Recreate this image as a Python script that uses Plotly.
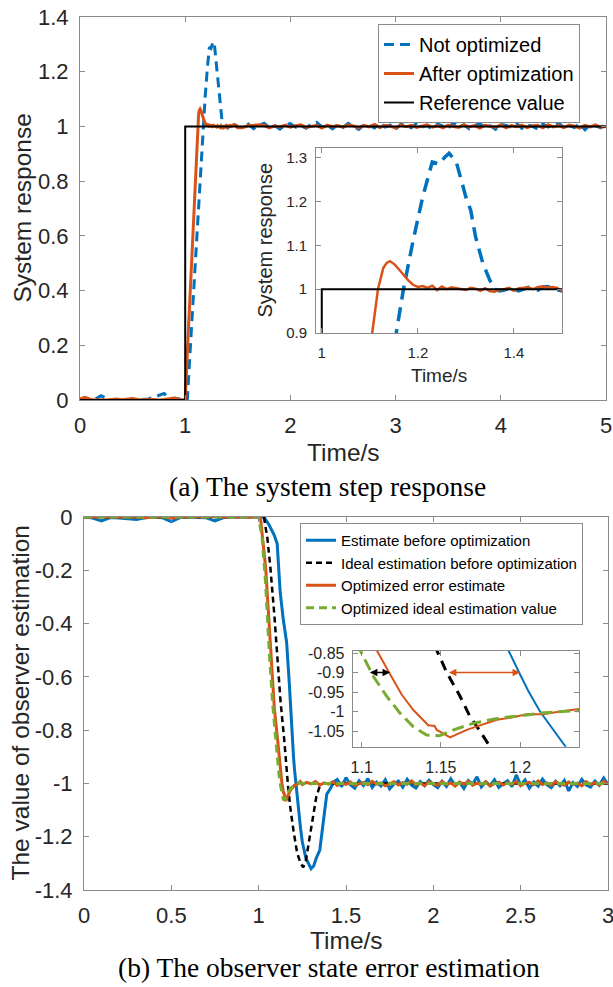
import plotly.graph_objects as go

# ================= (a) system step response =================
a_pre_t = [0.00, 0.05, 0.10, 0.15, 0.20, 0.25, 0.30, 0.35, 0.40, 0.45, 0.50,
           0.55, 0.60, 0.65, 0.70, 0.75, 0.80, 0.85, 0.90, 0.95, 1.00]
a_blue_pre = [0.000, 0.002, 0.000, 0.004, 0.016, 0.006, 0.000, -0.002, 0.002, 0.000, 0.003,
              0.001, 0.002, 0.004, 0.010, 0.018, 0.024, 0.004, 0.006, 0.004, 0.002]
a_orange_pre = [0.004, 0.010, 0.002, 0.000, 0.001, 0.000, 0.002, 0.004, 0.001, 0.003, 0.005,
                0.002, 0.000, 0.003, 0.001, 0.000, 0.002, 0.004, 0.007, 0.002, 0.000]

a_blue_tr_t = [1.02, 1.05, 1.08, 1.11, 1.13, 1.154, 1.17, 1.19, 1.21, 1.23,
               1.245, 1.255, 1.265, 1.28, 1.30, 1.31, 1.32, 1.335, 1.35, 1.36,
               1.37, 1.38, 1.39, 1.40, 1.41, 1.42, 1.43, 1.44, 1.45, 1.46,
               1.47, 1.48, 1.49, 1.50]
a_blue_tr_y = [0.00, 0.20, 0.40, 0.60, 0.73, 0.90, 1.00, 1.11, 1.21, 1.29,
               1.285, 1.30, 1.31, 1.29, 1.21, 1.18, 1.12, 1.06, 1.02, 1.00,
               0.996, 0.998, 1.002, 0.999, 0.996, 1.000, 1.004, 1.001, 0.998, 1.005,
               1.006, 1.002, 0.999, 0.996]
a_orange_tr_t = [1.02, 1.05, 1.08, 1.105, 1.117, 1.128, 1.135, 1.142, 1.148, 1.152,
                 1.16, 1.17, 1.18, 1.19, 1.20, 1.21, 1.22, 1.23, 1.24, 1.25,
                 1.26, 1.27, 1.28, 1.29, 1.30, 1.31, 1.32, 1.33, 1.34, 1.35,
                 1.36, 1.37, 1.38, 1.39, 1.40, 1.41, 1.42, 1.43, 1.44, 1.45,
                 1.46, 1.47, 1.48, 1.49, 1.50]
a_orange_tr_y = [0.17, 0.42, 0.67, 0.90, 1.00, 1.048, 1.06, 1.064, 1.06, 1.056,
                 1.046, 1.033, 1.02, 1.01, 1.005, 1.007, 1.003, 1.008, 0.998, 1.006,
                 1.000, 1.004, 1.002, 0.999, 0.998, 1.003, 1.001, 0.996, 1.002, 0.995,
                 0.994, 0.999, 1.000, 1.003, 0.996, 1.002, 1.003, 1.004, 1.000, 1.005,
                 1.006, 1.004, 1.005, 1.003, 0.995]

a_tail_start, a_tail_step = 1.55, 0.05
a_blue_tail = [0.995, 1.008, 0.992, 1.004, 1.012, 0.996, 1.003, 0.990, 1.006, 1.010,
               0.997, 1.002, 0.993, 1.009, 1.015, 0.998, 1.004, 0.991, 1.007, 0.996,
               1.011, 1.001, 0.989, 1.006, 1.003, 0.994, 1.013, 0.998, 1.005, 0.990,
               1.008, 1.002, 0.995, 1.012, 0.997, 1.004, 0.988, 1.009, 1.000, 0.994,
               1.014, 0.999, 1.006, 0.991, 1.003, 1.010, 0.996, 1.002, 0.989, 1.008,
               1.004, 0.997, 1.012, 0.993, 1.006, 1.001, 0.990, 1.009, 0.998, 1.005,
               1.013, 0.994, 1.003, 0.996, 1.010, 0.988, 1.007, 1.002, 0.995, 1.012]
a_orange_tail = [0.996, 1.003, 1.004, 1.006, 1.004, 0.995, 1.002, 0.998, 1.005, 0.997,
                 1.003, 1.006, 0.996, 1.001, 1.004, 0.994, 1.005, 0.999, 1.003, 0.997,
                 1.006, 1.002, 0.995, 1.004, 0.998, 1.007, 0.996, 1.003, 1.001, 0.994,
                 1.005, 0.999, 1.004, 0.996, 1.002, 1.006, 0.997, 1.003, 0.995, 1.005,
                 1.000, 0.996, 1.006, 0.998, 1.003, 0.994, 1.004, 1.001, 0.997, 1.006,
                 0.995, 1.003, 0.999, 1.005, 0.996, 1.002, 1.004, 0.995, 1.006, 0.998,
                 1.003, 0.996, 1.005, 1.001, 0.994, 1.004, 0.998, 1.006, 0.997, 1.000]

a_ref_t = [0.0, 1.0, 1.0, 5.0]
a_ref_y = [0.0, 0.0, 1.0, 1.0]

a_names = ["Not optimized", "After optimization", "Reference value"]
a_xticks = [0, 1, 2, 3, 4, 5]
a_yticks = [0, 0.2, 0.4, 0.6, 0.8, 1, 1.2, 1.4]
a_in_xticks = [1, 1.2, 1.4]
a_in_yticks = [0.9, 1.0, 1.1, 1.2, 1.3]
a_in_xrange = [0.988, 1.5]
a_in_yrange = [0.9, 1.322]

# ================= (b) observer state error estimation =================
b_pre_t = a_pre_t
b_blue_pre = [0.000, -0.004, -0.015, -0.002, -0.004, -0.006, -0.009, -0.003, 0.000, -0.003, -0.017,
              -0.002, 0.000, -0.002, -0.003, -0.015, -0.002, 0.000, 0.000, 0.000, 0.000]
b_orange_pre = [0.000, 0.000, 0.002, 0.000, 0.000, 0.001, 0.000, -0.003, 0.000, 0.002, -0.005,
                0.000, 0.001, 0.002, 0.000, 0.003, 0.000, 0.000, -0.002, 0.000, 0.000]

b_blue_tr_t = [1.03, 1.06, 1.09, 1.106, 1.123, 1.14, 1.16, 1.175, 1.1926, 1.2,
               1.2053, 1.2126, 1.221, 1.2284, 1.24, 1.25, 1.27, 1.285, 1.30, 1.315,
               1.33, 1.35, 1.37, 1.39, 1.41, 1.43]
b_blue_tr_y = [0.0, -0.03, -0.07, -0.10, -0.28, -0.38, -0.47, -0.62, -0.843, -0.905,
               -0.948, -1.0, -1.047, -1.088, -1.17, -1.22, -1.28, -1.30, -1.32, -1.31,
               -1.28, -1.25, -1.14, -1.04, -1.02, -0.995]
b_blue_tail_start, b_blue_tail_step = 1.45, 0.025
b_blue_tail = [-0.985, -1.012, -0.978, -1.005, -1.018, -0.990, -1.008, -0.982, -1.015, -0.995,
               -1.010, -0.986, -1.020, -1.002, -0.991, -1.014, -0.984, -1.006, -1.017, -0.993,
               -1.009, -0.988, -1.004, -1.016, -0.992, -1.011, -0.983, -1.007, -0.996, -1.019,
               -0.989, -1.003, -0.975, -1.013, -0.994, -1.008, -0.986, -1.015, -1.001, -0.990,
               -1.012, -0.968, -1.006, -0.987, -1.018, -0.995, -1.010, -0.984, -1.005, -1.016,
               -0.992, -1.009, -0.989, -1.028, -0.997, -1.011, -0.985, -1.006, -1.014, -0.991,
               -1.007, -0.980, -1.004]

b_black_t = [0.0, 1.03, 1.05, 1.067, 1.09, 1.11, 1.125, 1.1474, 1.1537, 1.162,
             1.168, 1.1747, 1.181, 1.20, 1.22, 1.24, 1.255, 1.27, 1.29, 1.31,
             1.33, 1.35, 1.37, 3.0]
b_black_y = [0.0, 0.0, -0.08, -0.19, -0.37, -0.55, -0.69, -0.843, -0.9, -0.96,
             -1.01, -1.05, -1.09, -1.18, -1.26, -1.30, -1.315, -1.29, -1.21, -1.13,
             -1.05, -1.01, -1.0, -1.0]

b_orange_tr_t = [1.01, 1.04, 1.067, 1.09, 1.1095, 1.118, 1.1253, 1.1326, 1.142, 1.146,
                 1.1474, 1.1558, 1.1663, 1.1853, 1.1937, 1.2042, 1.2147, 1.2253, 1.2375]
b_orange_tr_y = [0.0, -0.19, -0.50, -0.72, -0.843, -0.905, -0.957, -0.996, -1.035, -1.037,
                 -1.047, -1.066, -1.047, -1.021, -1.016, -1.007, -1.007, -1.0, -0.993]
b_orange_tail_start, b_orange_tail_step = 1.25, 0.025
b_orange_tail = [-1.004, -0.996, -1.002, -0.993, -1.006, -0.998, -1.003, -0.994, -1.008, -0.999,
                 -1.004, -0.995, -1.007, -1.001, -0.996, -1.005, -0.992, -1.003, -0.998, -1.009,
                 -1.000, -0.994, -1.006, -0.997, -1.003, -0.991, -1.005, -0.999, -1.008, -0.995,
                 -1.002, -1.006, -0.993, -1.004, -0.998, -1.010, -0.996, -1.003, -0.992, -1.007,
                 -0.999, -1.004, -0.994, -1.009, -1.001, -0.995, -1.006, -0.997, -1.003, -0.993,
                 -1.008, -1.000, -0.996, -1.005, -0.991, -1.004, -0.998, -1.007, -0.994, -1.002,
                 -1.006, -0.995, -1.003, -0.999, -1.009, -0.993, -1.004, -0.997, -1.006, -0.992,
                 -1.001]

b_green_t = [0.0, 1.0, 1.02, 1.04, 1.06, 1.08, 1.099, 1.1074, 1.1158, 1.1242,
             1.1326, 1.141, 1.149, 1.158, 1.1705, 1.1874, 1.2, 1.2126, 1.233, 1.26,
             1.5, 1.8, 2.1, 2.4, 2.7, 3.0]
b_green_y = [0.0, 0.0, -0.08, -0.25, -0.50, -0.70, -0.843, -0.91, -0.961, -1.004,
             -1.039, -1.06, -1.062, -1.047, -1.03, -1.016, -1.011, -1.004, -0.998, -1.0,
             -1.0, -1.0, -1.0, -1.0, -1.0, -1.0]

b_names = ["Estimate before optimization", "Ideal estimation before optimization",
           "Optimized error estimate", "Optimized ideal estimation value"]
b_xticks = [0, 0.5, 1, 1.5, 2, 2.5, 3]
b_yticks = [0, -0.2, -0.4, -0.6, -0.8, -1, -1.2, -1.4]
b_yticklabels = ["0", "-0.2", "-0.4", "-0.6", "-0.8", "-1", "-1.2", "-1.4"]
b_in_xticks = [1.1, 1.15, 1.2]
b_in_yticks = [-0.85, -0.9, -0.95, -1, -1.05]
b_in_yticklabels = ["-0.85", "-0.9", "-0.95", "-1", "-1.05"]
b_in_xrange = [1.0943, 1.2372]
b_in_yrange = [-1.09, -0.844]
# double arrows in the inset: (start, end, level)
b_arrow_black = [1.1042, 1.1179, -0.9]
b_arrow_orange = [1.1541, 1.2, -0.9]

# ---------------- assemble series ----------------
def tail_times(start, step, n):
    return [round(start + step * i, 4) for i in range(n)]

a_blue_t = a_pre_t + a_blue_tr_t + tail_times(a_tail_start, a_tail_step, len(a_blue_tail))
a_blue_y = a_blue_pre + a_blue_tr_y + a_blue_tail
a_orange_t = a_pre_t + a_orange_tr_t + tail_times(a_tail_start, a_tail_step, len(a_orange_tail))
a_orange_y = a_orange_pre + a_orange_tr_y + a_orange_tail

b_blue_t = b_pre_t + b_blue_tr_t + tail_times(b_blue_tail_start, b_blue_tail_step, len(b_blue_tail))
b_blue_y = b_blue_pre + b_blue_tr_y + b_blue_tail
b_orange_t = b_pre_t + b_orange_tr_t + tail_times(b_orange_tail_start, b_orange_tail_step, len(b_orange_tail))
b_orange_y = b_orange_pre + b_orange_tr_y + b_orange_tail

BLUE, ORANGE, GREEN, BLACK = "#0072BD", "#D95319", "#77AC30", "#000000"
AXC, TXT = "#8a8a8a", "#262626"
SANS = "Liberation Sans, Arial, sans-serif"
SERIF = "Liberation Serif, Times New Roman, serif"

fig = go.Figure()

def add(x, y, xa, ya, color, width, dash=None, name=None, legend=None, show=False):
    fig.add_trace(go.Scatter(
        x=x, y=y, xaxis=xa, yaxis=ya, mode="lines", name=name,
        line=dict(color=color, width=width, dash=dash),
        showlegend=show, legend=legend, hoverinfo="skip"))

def white_bg(xr, yr, xa, ya):
    fig.add_trace(go.Scatter(
        x=[xr[0], xr[1], xr[1], xr[0], xr[0]], y=[yr[0], yr[0], yr[1], yr[1], yr[0]],
        xaxis=xa, yaxis=ya, mode="lines", fill="toself", fillcolor="white",
        line=dict(width=0, color="white"), showlegend=False, hoverinfo="skip"))

# (a) main
add(a_blue_t, a_blue_y, "x", "y", BLUE, 3, "10px,6px", a_names[0], "legend", True)
add(a_orange_t, a_orange_y, "x", "y", ORANGE, 3, None, a_names[1], "legend", True)
add(a_ref_t, a_ref_y, "x", "y", BLACK, 2, None, a_names[2], "legend", True)
# (a) inset
white_bg(a_in_xrange, a_in_yrange, "x2", "y2")
add(a_blue_t, a_blue_y, "x2", "y2", BLUE, 3.5, "14px,8px")
add(a_orange_t, a_orange_y, "x2", "y2", ORANGE, 2.5)
add(a_ref_t, a_ref_y, "x2", "y2", BLACK, 2)

# (b) main
add(b_blue_t, b_blue_y, "x3", "y3", BLUE, 3, None, b_names[0], "legend2", True)
add(b_black_t, b_black_y, "x3", "y3", BLACK, 2.5, "6px,4px", b_names[1], "legend2", True)
add(b_orange_t, b_orange_y, "x3", "y3", ORANGE, 3, None, b_names[2], "legend2", True)
add(b_green_t, b_green_y, "x3", "y3", GREEN, 3, "8px,5px", b_names[3], "legend2", True)
# (b) inset
white_bg(b_in_xrange, b_in_yrange, "x4", "y4")
add(b_blue_t, b_blue_y, "x4", "y4", BLUE, 2)
add(b_black_t, b_black_y, "x4", "y4", BLACK, 3, "10px,7px")
add(b_orange_t, b_orange_y, "x4", "y4", ORANGE, 2)
add(b_green_t, b_green_y, "x4", "y4", GREEN, 3, "12px,6px")

W, H = 613, 987
def px(x): return x / W
def py(y): return 1 - y / H

def axis(domain, anchor, rng, tickvals, size, ticktext=None, standoff=4):
    d = dict(domain=domain, anchor=anchor, range=rng, tickvals=tickvals,
             showline=True, linecolor=AXC, linewidth=1, mirror="ticks",
             ticks="inside", ticklen=5, tickcolor=AXC, tickwidth=1,
             showgrid=False, zeroline=False, ticklabelstandoff=standoff,
             automargin=False, ticklabeloverflow="allow",
             tickfont=dict(family=SANS, size=size, color=TXT))
    if ticktext is not None:
        d["ticktext"] = ticktext
    return d

layout = dict(
    width=W, height=H, autosize=False,
    margin=dict(l=0, r=0, t=0, b=0, pad=0, autoexpand=False),
    paper_bgcolor="white", plot_bgcolor="white",
    xaxis=axis([px(80), px(606)], "y", [0, 5], a_xticks, 22, standoff=6),
    yaxis=axis([py(400), py(17)], "x", [0, 1.4], a_yticks, 22, standoff=6),
    xaxis2=axis([px(316), px(562)], "y2", a_in_xrange, a_in_xticks, 15, standoff=6),
    yaxis2=axis([py(333), py(148)], "x2", a_in_yrange, a_in_yticks, 15, standoff=5),
    xaxis3=axis([px(84), px(608)], "y3", [0, 3], b_xticks, 22, standoff=6),
    yaxis3=axis([py(890), py(517)], "x3", [-1.4, 0], b_yticks, 22, b_yticklabels, standoff=6),
    xaxis4=axis([px(352.7), px(579)], "y4", b_in_xrange, b_in_xticks, 16, standoff=6),
    yaxis4=axis([py(746.7), py(650.7)], "x4", b_in_yrange, b_in_yticks, 16, b_in_yticklabels, standoff=4),
    legend=dict(x=px(378), y=py(24), xanchor="left", yanchor="top",
                bgcolor="white", bordercolor=AXC, borderwidth=1,
                font=dict(family=SANS, size=20, color="#000"), tracegroupgap=0),
    legend2=dict(x=px(300), y=py(523), xanchor="left", yanchor="top",
                 bgcolor="white", bordercolor=AXC, borderwidth=1,
                 font=dict(family=SANS, size=15, color="#000"), tracegroupgap=0),
    showlegend=True,
)
fig.update_layout(**layout)

def text(x, y, s, size, angle=0, family=SANS, color=TXT):
    fig.add_annotation(x=x, y=y, xref="paper", yref="paper", text=s, showarrow=False,
                       textangle=angle, xanchor="center", yanchor="middle",
                       font=dict(family=family, size=size, color=color))

text(px(343), py(452), "Time/s", 24.5)
text(px(22), py(208.5), "System response", 24.5, -90)
text(px(439), py(375), "Time/s", 19)
text(px(264), py(240.5), "System response", 20, -90)
text(px(346), py(940), "Time/s", 24.5)
text(px(20), py(703.5), "The value of observer estimation", 24.5, -90)
text(px(327.5), py(487), "(a) The system step response", 27.5, family=SERIF, color="#000")
text(px(328.7), py(967), "(b) The observer state error estimation", 27.5, family=SERIF, color="#000")

for (x0, x1, yv), col in [(b_arrow_black, BLACK), (b_arrow_orange, ORANGE)]:
    fig.add_annotation(x=x1, y=yv, ax=x0, ay=yv, xref="x4", yref="y4", axref="x4", ayref="y4",
                       text="", showarrow=True, arrowhead=2, arrowside="end+start",
                       arrowsize=1, arrowwidth=1.5, arrowcolor=col, standoff=0, startstandoff=0)

fig.write_html("out.html")
